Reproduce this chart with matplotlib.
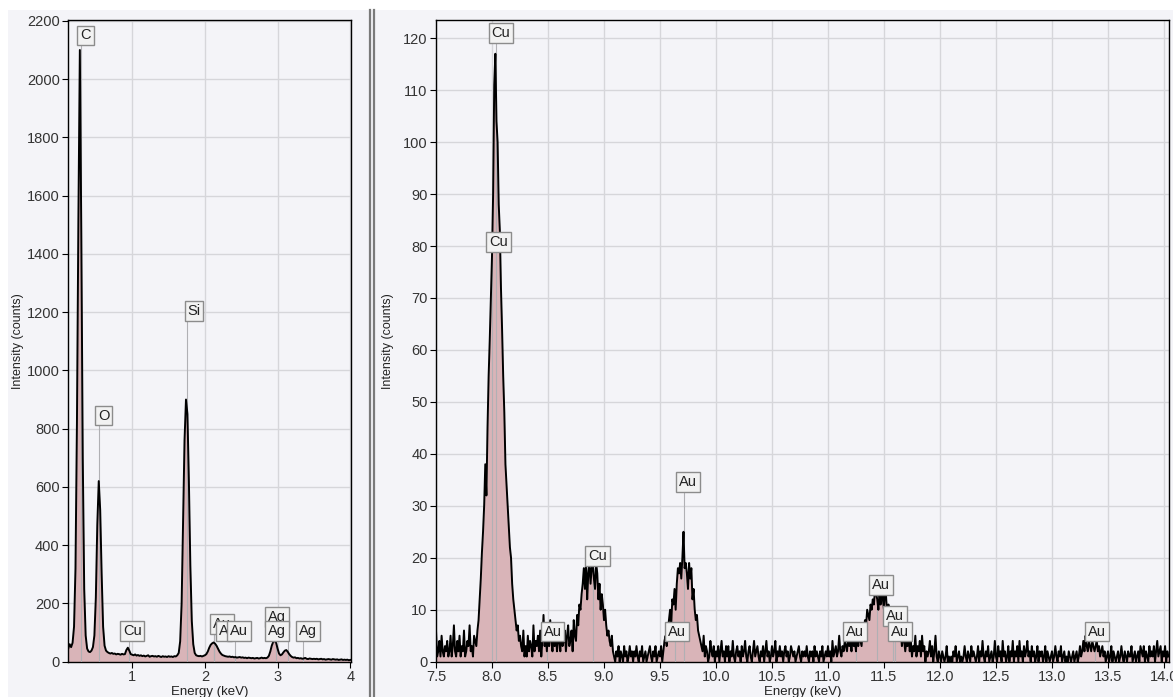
import numpy as np
import matplotlib.pyplot as plt
from matplotlib.patches import Rectangle
from matplotlib.lines import Line2D

plt.rcParams['font.family'] = ['Liberation Sans', 'DejaVu Sans']

# left spectrum, 0.02 keV channels starting at 0.12 keV
LOW_E0 = 0.12
LOW_STEP = 0.02
low_counts = [
    45, 60, 50, 65, 120, 320, 820, 1520, 2100, 1470,
    700, 250, 90, 45, 35, 33, 38, 50, 90, 220,
    470, 620, 520, 300, 120, 55, 38, 33, 30, 28,
    30, 27, 28, 25, 27, 26, 24, 27, 25, 26,
    40, 48, 38, 26, 24, 22, 25, 21, 23, 20,
    22, 19, 21, 18, 20, 22, 17, 19, 20, 18,
    19, 17, 20, 18, 16, 19, 17, 18, 16, 19,
    17, 18, 16, 19, 18, 22, 30, 70, 200, 480,
    760, 900, 850, 620, 330, 140, 60, 30, 22, 20,
    19, 20, 18, 20, 22, 26, 35, 48, 58, 63,
    66, 62, 55, 45, 35, 28, 23, 21, 19, 18,
    17, 18, 16, 17, 15, 16, 14, 15, 16, 14,
    15, 13, 14, 12, 14, 13, 12, 13, 11, 12,
    13, 11, 12, 14, 12, 13, 12, 14, 20, 35,
    55, 68, 72, 65, 45, 28, 22, 25, 32, 38,
    40, 34, 26, 20, 16, 14, 15, 12, 13, 11,
    12, 10, 11, 13, 10, 9, 11, 10, 9, 10,
    9, 10, 8, 9, 10, 8, 9, 7, 8, 9,
    8, 7, 9, 8, 7, 8, 6, 7, 8, 6,
    7, 6, 7, 5, 6,
]

# right spectrum, 0.01 keV channels starting at 7.50 keV
HIGH_E0 = 7.50
HIGH_STEP = 0.01
high_counts = [
    6, 1, 2, 4, 1, 5, 2, 1, 3, 2,
    4, 1, 2, 5, 1, 3, 7, 2, 1, 4,
    2, 5, 1, 3, 2, 6, 1, 2, 4, 3,
    7, 2, 3, 1, 5, 4, 3, 6, 8, 12,
    16, 21, 25, 30, 38, 32, 45, 55, 62, 70,
    78, 90, 111, 117, 104, 100, 88, 83, 72, 64,
    55, 48, 38, 34, 30, 26, 22, 20, 15, 12,
    10, 8, 6, 7, 4, 5, 3, 2, 6, 1,
    3, 1, 5, 2, 4, 3, 1, 7, 2, 4,
    3, 5, 2, 6, 1, 4, 9, 3, 5, 2,
    6, 3, 8, 4, 2, 5, 3, 6, 2, 4,
    5, 2, 7, 3, 4, 6, 2, 5, 7, 3,
    4, 6, 2, 8, 5, 4, 9, 7, 11, 10,
    13, 15, 18, 14, 19, 12, 17, 19, 15, 18,
    19, 16, 14, 19, 17, 12, 15, 10, 13, 11,
    8, 10, 7, 5, 6, 4, 3, 5, 2, 1,
    0, 2, 1, 3, 0, 2, 1, 0, 3, 1,
    2, 0, 1, 3, 1, 2, 0, 2, 1, 3,
    1, 0, 2, 1, 3, 0, 1, 2, 0, 1,
    2, 3, 1, 0, 2, 1, 3, 0, 1, 2,
    1, 3, 0, 2, 4, 5, 3, 6, 8, 10,
    7, 12, 11, 14, 10, 15, 18, 17, 19, 16,
    20, 25, 18, 19, 17, 14, 19, 16, 18, 12,
    14, 10, 8, 9, 6, 5, 4, 3, 2, 5,
    1, 3, 2, 0, 1, 4, 2, 1, 3, 0,
    2, 1, 3, 0, 2, 4, 1, 2, 0, 3,
    1, 3, 0, 2, 1, 4, 1, 0, 2, 3,
    1, 2, 0, 3, 1, 2, 4, 1, 0, 2,
    3, 1, 0, 2, 4, 1, 2, 3, 1, 0,
    2, 1, 3, 0, 2, 4, 1, 2, 0, 1,
    3, 1, 2, 4, 0, 2, 1, 3, 1, 2,
    0, 2, 3, 1, 2, 0, 1, 3, 2, 1,
    2, 0, 1, 2, 3, 1, 0, 2, 1, 2,
    1, 3, 1, 0, 2, 1, 2, 0, 3, 1,
    2, 1, 0, 2, 1, 3, 0, 1, 2, 1,
    3, 1, 2, 0, 4, 1, 2, 3, 1, 2,
    5, 2, 1, 3, 2, 4, 3, 2, 5, 3,
    4, 2, 5, 3, 4, 2, 6, 3, 5, 4,
    3, 6, 5, 8, 7, 10, 9, 8, 11, 10,
    12, 11, 14, 13, 12, 10, 13, 11, 15, 12,
    10, 16, 12, 9, 11, 8, 10, 7, 9, 6,
    8, 5, 7, 6, 4, 6, 3, 5, 4, 2,
    4, 3, 5, 2, 4, 1, 3, 2, 5, 1,
    3, 2, 4, 1, 5, 2, 3, 0, 2, 1,
    2, 4, 1, 3, 0, 2, 5, 1, 0, 2,
    1, 0, 2, 1, 0, 1, 3, 0, 1, 0,
    1, 0, 2, 1, 3, 0, 1, 2, 0, 1,
    0, 1, 3, 1, 0, 2, 1, 0, 3, 1,
    2, 1, 0, 1, 3, 0, 2, 1, 4, 1,
    0, 2, 1, 3, 0, 1, 2, 0, 1, 4,
    1, 0, 3, 1, 2, 0, 4, 1, 2, 0,
    1, 3, 0, 2, 1, 4, 0, 2, 1, 3,
    0, 4, 1, 2, 0, 3, 1, 2, 4, 1,
    2, 0, 3, 1, 2, 0, 1, 3, 0, 2,
    1, 2, 0, 1, 3, 0, 2, 1, 0, 1,
    2, 0, 1, 3, 1, 0, 2, 1, 3, 0,
    1, 2, 0, 1, 0, 2, 1, 0, 1, 2,
    0, 1, 2, 0, 1, 3, 1, 2, 4, 2,
    5, 3, 2, 4, 3, 2, 4, 3, 2, 3,
    4, 2, 3, 1, 2, 3, 1, 2, 0, 1,
    2, 0, 1, 3, 0, 2, 1, 0, 1, 2,
    0, 1, 3, 1, 0, 2, 1, 0, 2, 1,
    1, 3, 0, 1, 2, 0, 1, 2, 0, 3,
    2, 1, 3, 0, 2, 1, 0, 3, 1, 2,
    1, 3, 0, 2, 4, 1, 2, 3, 0, 2,
    1, 3, 0, 2, 1,
]

# peak labels: text, marker line energy, box centre energy, box centre height
low_labels = [
    ('C', 0.29, 0.36, 2150),
    ('O', 0.545, 0.61, 845),
    ('Si', 1.755, 1.85, 1205),
    ('Cu', 0.95, 1.0, 104),
    ('Au', 2.12, 2.24, 130),
    ('A', 2.12, 2.26, 104),
    ('Au', 2.41, 2.47, 104),
    ('Ag', 2.98, 2.99, 154),
    ('Ag', 3.15, 2.99, 104),
    ('Ag', 3.35, 3.42, 104),
]
high_labels = [
    ('Cu', 8.04, 8.08, 121),
    ('Cu', 8.0, 8.06, 80.7),
    ('Au', 8.49, 8.54, 5.8),
    ('Cu', 8.9, 8.94, 20.4),
    ('Au', 9.71, 9.75, 34.6),
    ('Au', 9.63, 9.65, 5.8),
    ('Au', 11.44, 11.47, 14.7),
    ('Au', 11.58, 11.60, 8.8),
    ('Au', 11.60, 11.64, 5.8),
    ('Au', 11.25, 11.24, 5.8),
    ('Au', 13.38, 13.40, 5.8),
]

BG = '#f4f4f8'
FILL = '#d9b4b8'
GRID = '#d6d6da'


def draw_spectrum(ax, e0, step, counts, labels, xlim, ylim, xticks, yticks, xfmt):
    counts = np.array(counts, dtype=float)
    energy = e0 + step * np.arange(len(counts))
    ax.set_facecolor(BG)
    ax.fill_between(energy, counts, 0, color=FILL, lw=0, zorder=2)
    for text, e_line, e_box, h_box in labels:
        ax.plot([e_line, e_line], [0, h_box], color='#b0b0b4', lw=0.8, zorder=3)
    ax.plot(energy, counts, color='black', lw=1.4, zorder=4)
    for text, e_line, e_box, h_box in labels:
        ax.text(e_box, h_box, text, ha='center', va='center', fontsize=10.5,
                color='#222222', zorder=6,
                bbox=dict(boxstyle='square,pad=0.2', fc='#f2f2f2', ec='#8c8c8c', lw=1))
    ax.set_xlim(*xlim)
    ax.set_ylim(*ylim)
    ax.set_xticks(xticks)
    ax.set_xticklabels([xfmt.format(t) for t in xticks])
    ax.set_yticks(yticks)
    ax.grid(True, color=GRID, lw=1, zorder=0)
    ax.set_axisbelow(True)
    for sp in ax.spines.values():
        sp.set_color('black')
        sp.set_linewidth(1.0)
    ax.tick_params(direction='out', length=4, width=0.8, labelsize=10.5,
                   labelcolor='#333333', pad=2)
    ax.set_xlabel('Energy (keV)', fontsize=9.5, color='#222222')
    ax.set_ylabel('Intensity (counts)', fontsize=9, color='#222222')


fig = plt.figure(figsize=(11.73, 6.97), dpi=100, facecolor='white')
fig.patches.append(Rectangle((8 / 1173, 0), 1, 1 - 10 / 697, transform=fig.transFigure,
                             facecolor=BG, edgecolor='none', zorder=-10))
for px in (370, 374):
    fig.add_artist(Line2D([px / 1173, px / 1173], [0, 1 - 10 / 697],
                          transform=fig.transFigure, color='#7a7a7a', lw=1.6))

ax1 = fig.add_axes([68 / 1173, 1 - 661.7 / 697, 283 / 1173, 641.7 / 697])
draw_spectrum(ax1, LOW_E0, LOW_STEP, low_counts, low_labels,
              (0.117, 4.01), (0, 2203), [1, 2, 3, 4], np.arange(0, 2201, 200), '{:g}')
ax1.yaxis.set_label_coords(-0.155, 0.5)
ax1.xaxis.set_label_coords(0.5, -0.038)

ax2 = fig.add_axes([436 / 1173, 1 - 661.7 / 697, 733 / 1173, 641.7 / 697])
draw_spectrum(ax2, HIGH_E0, HIGH_STEP, high_counts, high_labels,
              (7.5, 14.045), (0, 123.5), np.arange(7.5, 14.01, 0.5), np.arange(0, 121, 10), '{:.1f}')
ax2.yaxis.set_label_coords(-0.057, 0.5)
ax2.xaxis.set_label_coords(0.5, -0.038)

fig.savefig('out.png', dpi=100, facecolor=fig.get_facecolor())
